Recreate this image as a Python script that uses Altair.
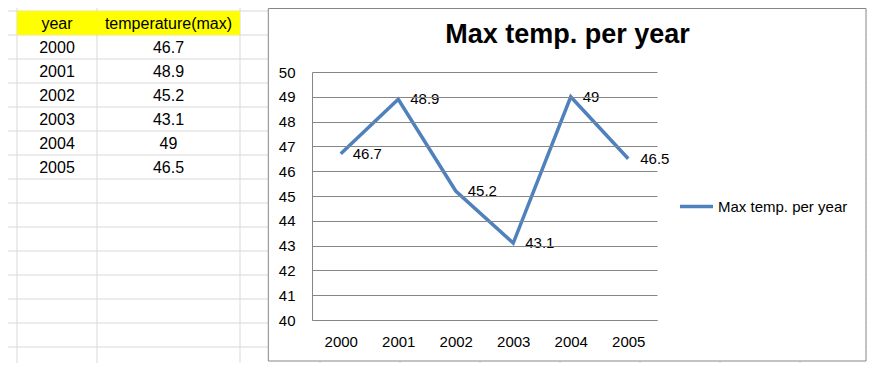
import altair as alt
import pandas as pd

# ---------------- data ----------------
years = ["2000", "2001", "2002", "2003", "2004", "2005"]
temps = [46.7, 48.9, 45.2, 43.1, 49, 46.5]
series_name = "Max temp. per year"
chart_title = "Max temp. per year"
header_year = "year"
header_temp = "temperature(max)"
y_ticks = [40, 41, 42, 43, 44, 45, 46, 47, 48, 49, 50]

# ---------------- layout / style ----------------
FONT = "Liberation Sans"
LINE_BLUE = "#4F81BD"
GRID_GRAY = "#868686"
SHEET_GRAY = "#D9D9D9"
W, H = 345, 248
PAD_L, PAD_T = 304, 64
SVG_W, SVG_H = 859, 355
ROW_H = 24
# spreadsheet column edges (relative to plot-area origin)
SHEET_COL_EDGES = [-295, -215, -72, 8, 88, 168, 248, 328, 408, 488]
row_scale = alt.Scale(domain=[0, 10], range=[-49, -49 + 10 * ROW_H], zero=False, nice=False)

# ---------------- spreadsheet background ----------------
hlines = alt.Chart(pd.DataFrame({"edge": [k - 0.5 for k in range(16)]})).mark_rule(
    color=SHEET_GRAY, strokeWidth=1
).encode(
    y=alt.Y("edge:Q", scale=row_scale, axis=None),
    x=alt.value(-PAD_L),
    x2=alt.value(SVG_W - PAD_L),
)
vlines = alt.Chart(pd.DataFrame({"px": SHEET_COL_EDGES})).mark_rule(
    color=SHEET_GRAY, strokeWidth=1
).encode(
    x=alt.X("px:Q", scale=None, axis=None),
    y=alt.value(-PAD_T),
    y2=alt.value(SVG_H - PAD_T),
)
header = alt.Chart(pd.DataFrame({"r0": [-0.5], "r1": [0.5]})).mark_rect(color="#FFFF00").encode(
    y=alt.Y("r0:Q", scale=row_scale, axis=None),
    y2="r1:Q",
    x=alt.value(-295),
    x2=alt.value(-72),
)
table_df = pd.DataFrame({
    "row": list(range(0, len(years) + 1)),
    "c_year": [header_year] + years,
    "c_temp": [header_temp] + [str(t) for t in temps],
})
txt_year = alt.Chart(table_df).mark_text(font=FONT, fontSize=16, color="black", baseline="middle", dy=1).encode(
    y=alt.Y("row:Q", scale=row_scale, axis=None),
    x=alt.value(-255),
    text="c_year:N",
)
txt_temp = alt.Chart(table_df).mark_text(font=FONT, fontSize=16, color="black", baseline="middle", dy=1).encode(
    y=alt.Y("row:Q", scale=row_scale, axis=None),
    x=alt.value(-143.5),
    text="c_temp:N",
)
sheet = alt.layer(hlines, vlines, header, txt_year, txt_temp)

# ---------------- chart ----------------
box = alt.Chart(pd.DataFrame({"d": [0]})).mark_rect(
    fill="white", stroke=GRID_GRAY, strokeWidth=1
).encode(
    x=alt.value(-43.7), x2=alt.value(554), y=alt.value(-63.5), y2=alt.value(289),
)
title = alt.Chart(pd.DataFrame({"t": [chart_title]})).mark_text(
    font=FONT, fontSize=27, fontWeight="bold", color="black", align="center", baseline="alphabetic"
).encode(x=alt.value(255.5), y=alt.value(-29), text="t:N")

df = pd.DataFrame({"year": years, "temp": temps, "series": series_name})
base = alt.Chart(df).encode(
    x=alt.X("year:O", scale=alt.Scale(type="point", padding=0.5),
            axis=alt.Axis(title=None, labelAngle=0, labelFont=FONT, labelFontSize=15,
                          labelColor="black", labelBaseline="middle", labelPadding=21,
                          ticks=False, tickSize=0, domainColor=GRID_GRAY, grid=False, zindex=1)),
    y=alt.Y("temp:Q", scale=alt.Scale(domain=[40, 50], nice=False, zero=False),
            axis=alt.Axis(title=None, values=y_ticks, labelFont=FONT, labelFontSize=15,
                          labelColor="black", labelPadding=17, ticks=False, tickSize=0,
                          domainColor=GRID_GRAY, grid=True, gridColor=GRID_GRAY, gridOpacity=1,
                          zindex=1)),
)
line = base.mark_line(strokeWidth=3.5).encode(
    color=alt.Color("series:N", scale=alt.Scale(range=[LINE_BLUE]),
                    legend=alt.Legend(title=None, orient="none", legendX=366, legendY=116,
                                      symbolType="stroke", symbolSize=1089, symbolStrokeWidth=3.5,
                                      labelFont=FONT, labelFontSize=15, labelColor="black",
                                      labelOffset=3, padding=0, zindex=1))
)
labels = base.mark_text(align="left", baseline="middle", dx=12, font=FONT, fontSize=15, color="black").encode(
    text="temp:Q"
)
main = alt.layer(box, line, labels, title)

chart = alt.layer(sheet, main).resolve_scale(x="independent", y="independent").properties(
    width=W, height=H,
    autosize=alt.AutoSizeParams(type="none"),
    padding={"left": PAD_L, "top": PAD_T, "right": SVG_W - PAD_L - W, "bottom": SVG_H - PAD_T - H},
).configure_view(stroke=None)

chart.save("out.html", embed_options={"renderer": "svg", "actions": False})
